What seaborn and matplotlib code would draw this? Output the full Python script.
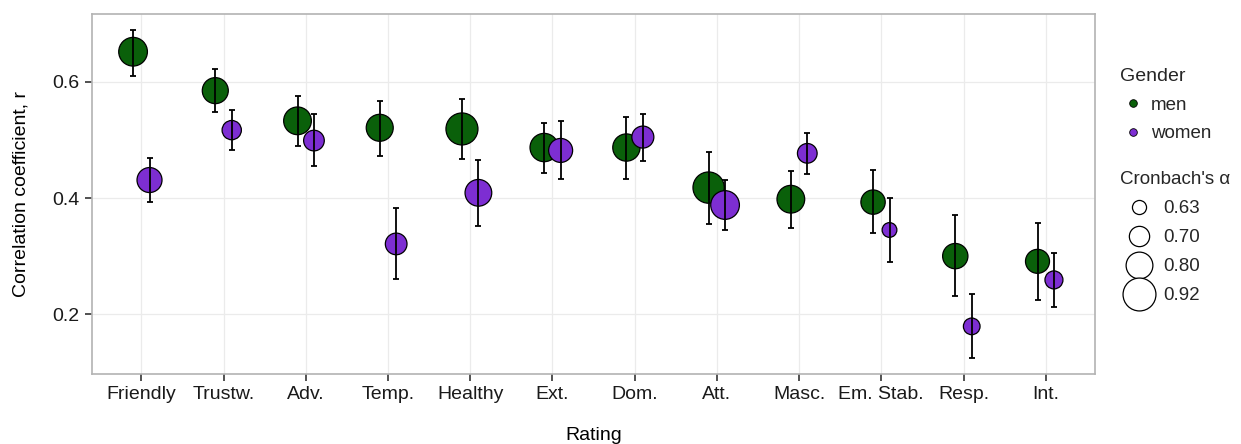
import numpy as np
import pandas as pd
import matplotlib
matplotlib.use("Agg")
import matplotlib.pyplot as plt
from matplotlib.lines import Line2D
import seaborn as sns

ratings = ["Friendly", "Trustw.", "Adv.", "Temp.", "Healthy", "Ext.", "Dom.",
           "Att.", "Masc.", "Em. Stab.", "Resp.", "Int."]
genders = ["men", "women"]

men_r = [0.652, 0.585, 0.533, 0.521, 0.519, 0.487, 0.487, 0.418, 0.398, 0.393, 0.300, 0.291]
men_lo = [0.610, 0.548, 0.490, 0.473, 0.468, 0.444, 0.433, 0.356, 0.349, 0.339, 0.231, 0.225]
men_hi = [0.690, 0.622, 0.575, 0.568, 0.570, 0.529, 0.540, 0.480, 0.446, 0.448, 0.370, 0.357]
men_alpha = [0.835, 0.787, 0.817, 0.804, 0.901, 0.828, 0.809, 0.886, 0.817, 0.759, 0.775, 0.754]

women_r = [0.431, 0.517, 0.499, 0.321, 0.409, 0.482, 0.505, 0.388, 0.477, 0.345, 0.179, 0.259]
women_lo = [0.393, 0.483, 0.455, 0.260, 0.351, 0.433, 0.463, 0.345, 0.442, 0.290, 0.124, 0.212]
women_hi = [0.469, 0.552, 0.544, 0.383, 0.466, 0.532, 0.545, 0.431, 0.512, 0.400, 0.234, 0.305]
women_alpha = [0.770, 0.687, 0.705, 0.719, 0.799, 0.754, 0.724, 0.835, 0.692, 0.636, 0.656, 0.671]

alpha_breaks = [0.63, 0.70, 0.80, 0.92]

colors = {"men": "#0a600a", "women": "#7d2ed2"}

sns.set_theme(style="whitegrid")
plt.rcParams['font.family'] = ['Liberation Sans', 'DejaVu Sans']

rows = []
for g, r, lo, hi, a in [("men", men_r, men_lo, men_hi, men_alpha),
                        ("women", women_r, women_lo, women_hi, women_alpha)]:
    for i, cat in enumerate(ratings):
        rows.append(dict(Rating=cat, Gender=g, r=r[i], lo=lo[i], hi=hi[i], alpha=a[i]))
df = pd.DataFrame(rows)
dodge = {"men": -0.1, "women": 0.1}
df["xpos"] = df["Rating"].map({c: i for i, c in enumerate(ratings)}) + df["Gender"].map(dodge)

fig = plt.figure(figsize=(12.41, 4.44), dpi=100)
ax = fig.add_axes([0.0741, 0.1577, 0.8083, 0.8108])

# size mapping: area linear in alpha
size_norm = (0.63, 0.92)
size_range = (103, 561)

sns.scatterplot(data=df, x="xpos", y="r", hue="Gender", palette=colors,
                size="alpha", sizes=size_range, size_norm=size_norm,
                edgecolor="black", linewidth=0.9, alpha=1, legend=False, ax=ax, zorder=3)

for g in genders:
    sub = df[df["Gender"] == g]
    ax.errorbar(sub["xpos"], sub["r"], yerr=[sub["r"] - sub["lo"], sub["hi"] - sub["r"]],
                fmt="none", ecolor="black", elinewidth=1.3, capsize=2.5, capthick=1.3, zorder=4)

ax.set_xlim(-0.6, 11.6)
ax.set_ylim(0.097, 0.717)
ax.set_xticks(range(len(ratings)))
ax.set_xticklabels(ratings)
ax.set_yticks([0.2, 0.4, 0.6])
ax.set_yticklabels(["0.2", "0.4", "0.6"])
ax.set_xlabel("Rating", fontsize=14, color="black", labelpad=17)
ax.set_ylabel("Correlation coefficient, r", fontsize=14, color="black", labelpad=16)
ax.tick_params(axis="both", labelsize=14, labelcolor="#1a1a1a", length=5, width=1.2,
               direction="out", bottom=True, left=True, pad=4, color="#333333")
ax.set_facecolor("white")
ax.grid(True, color="#ebebeb", linewidth=0.9)
for s in ax.spines.values():
    s.set_edgecolor("#b3b3b3")
    s.set_linewidth(1.2)

# Legends
h1 = [Line2D([0], [0], marker="o", linestyle="none", markerfacecolor=colors[g],
             markeredgecolor="black", markeredgewidth=0.6, markersize=5.5) for g in genders]
leg1 = fig.legend(h1, genders, title="Gender", loc="upper left",
                  bbox_to_anchor=(0.9025, 0.847), frameon=False, fontsize=13.5,
                  title_fontsize=14, handlelength=1.39, handletextpad=0.27,
                  borderaxespad=0, borderpad=0, labelspacing=0.62, alignment="left")

def s_for(a):
    lo, hi = size_norm
    return size_range[0] + (a - lo) / (hi - lo) * (size_range[1] - size_range[0])

h2 = [Line2D([0], [0], marker="o", linestyle="none", markerfacecolor="white",
             markeredgecolor="black", markeredgewidth=0.9, markersize=np.sqrt(s_for(a)))
      for a in alpha_breaks]
leg2 = fig.legend(h2, [f"{a:.2f}" for a in alpha_breaks], title="Cronbach's α",
                  loc="upper left", bbox_to_anchor=(0.9025, 0.615), frameon=False,
                  fontsize=13.5, title_fontsize=13.5, handlelength=2.03, handletextpad=0.27,
                  borderaxespad=0, borderpad=0, labelspacing=0.64, alignment="left")

fig.savefig("out.png", dpi=100)
